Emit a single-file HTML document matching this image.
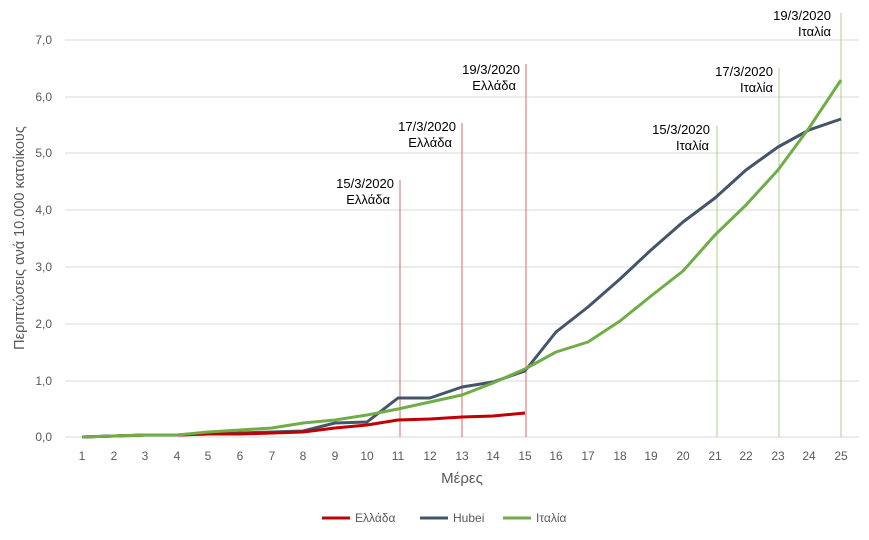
<!DOCTYPE html>
<html><head><meta charset="utf-8"><style>body{margin:0;background:#fff}svg{display:block}text{font-family:"Liberation Sans",sans-serif}</style></head><body>
<svg width="869" height="540" xmlns="http://www.w3.org/2000/svg">
<g stroke="#d9d9d9" stroke-width="1">
<line x1="65" x2="859" y1="437" y2="437"/><line x1="65" x2="859" y1="381" y2="381"/><line x1="65" x2="859" y1="324" y2="324"/><line x1="65" x2="859" y1="267" y2="267"/><line x1="65" x2="859" y1="210" y2="210"/><line x1="65" x2="859" y1="153" y2="153"/><line x1="65" x2="859" y1="97" y2="97"/><line x1="65" x2="859" y1="40" y2="40"/>
</g>
<g font-size="12" fill="#595959" text-anchor="end">
<text x="52" y="441">0,0</text><text x="52" y="385">1,0</text><text x="52" y="328">2,0</text><text x="52" y="271">3,0</text><text x="52" y="214">4,0</text><text x="52" y="157">5,0</text><text x="52" y="101">6,0</text><text x="52" y="44">7,0</text>
</g>
<g font-size="12" fill="#595959" text-anchor="middle">
<text x="82" y="460">1</text><text x="114" y="460">2</text><text x="145" y="460">3</text><text x="177" y="460">4</text><text x="208" y="460">5</text><text x="240" y="460">6</text><text x="272" y="460">7</text><text x="303" y="460">8</text><text x="335" y="460">9</text><text x="367" y="460">10</text><text x="398" y="460">11</text><text x="430" y="460">12</text><text x="462" y="460">13</text><text x="493" y="460">14</text><text x="525" y="460">15</text><text x="556" y="460">16</text><text x="588" y="460">17</text><text x="620" y="460">18</text><text x="651" y="460">19</text><text x="683" y="460">20</text><text x="715" y="460">21</text><text x="746" y="460">22</text><text x="778" y="460">23</text><text x="809" y="460">24</text><text x="841" y="460">25</text>
<text x="462" y="483" font-size="15">Μέρες</text>
<text transform="translate(24,238) rotate(-90)" font-size="14.5">Περιπτώσεις ανά 10.000 κατοίκους</text>
</g>
<g stroke="#e06666" stroke-width="1">
<line x1="400" x2="400" y1="180" y2="437"/><line x1="462" x2="462" y1="123" y2="437"/><line x1="526" x2="526" y1="64" y2="437"/>
</g>
<g stroke="#a9d18e" stroke-width="1">
<line x1="717" x2="717" y1="126" y2="437"/><line x1="779" x2="779" y1="68" y2="437"/><line x1="841" x2="841" y1="13" y2="437"/>
</g>
<g font-size="13" fill="#000" text-anchor="end">
<text x="394" y="188">15/3/2020</text><text x="390" y="204">Ελλάδα</text>
<text x="456" y="131">17/3/2020</text><text x="452" y="147">Ελλάδα</text>
<text x="520" y="74">19/3/2020</text><text x="516" y="90">Ελλάδα</text>
<text x="710" y="134">15/3/2020</text><text x="709" y="150">Ιταλία</text>
<text x="773" y="76">17/3/2020</text><text x="773" y="92">Ιταλία</text>
<text x="831" y="20">19/3/2020</text><text x="831" y="36">Ιταλία</text>
</g>
<g fill="none" stroke-width="3" stroke-linejoin="round">
<polyline stroke="#44546a" points="82,437 114,436 145,435 177,435 208,434 240,433 272,432 303,431 335,423 367,422 398,398 430,398 462,387 493,382 525,371 556,332 588,307 620,279 651,250 683,222 715,198 746,170 778,147 809,130 841,119"/>
<polyline stroke="#c00000" points="82,437 114,436 145,435 177,435 208,434 240,434 272,433 303,432 335,428 367,425 398,420 430,419 462,417 493,416 525,413"/>
<polyline stroke="#70ad47" points="82,437 114,436 145,435 177,435 208,432 240,430 272,428 303,423 335,420 367,415 398,409 430,402 462,395 493,383 525,369 556,352 588,342 620,321 651,296 683,271 715,235 746,205 778,170 809,128 841,80"/>
</g>
<g font-size="12" fill="#595959">
<line x1="322" x2="350" y1="518" y2="518" stroke="#c00000" stroke-width="3"/><text x="355" y="522">Ελλάδα</text>
<line x1="420" x2="448" y1="518" y2="518" stroke="#44546a" stroke-width="3"/><text x="453" y="522">Hubei</text>
<line x1="503" x2="531" y1="518" y2="518" stroke="#70ad47" stroke-width="3"/><text x="536" y="522">Ιταλία</text>
</g>
</svg>
</body></html>
